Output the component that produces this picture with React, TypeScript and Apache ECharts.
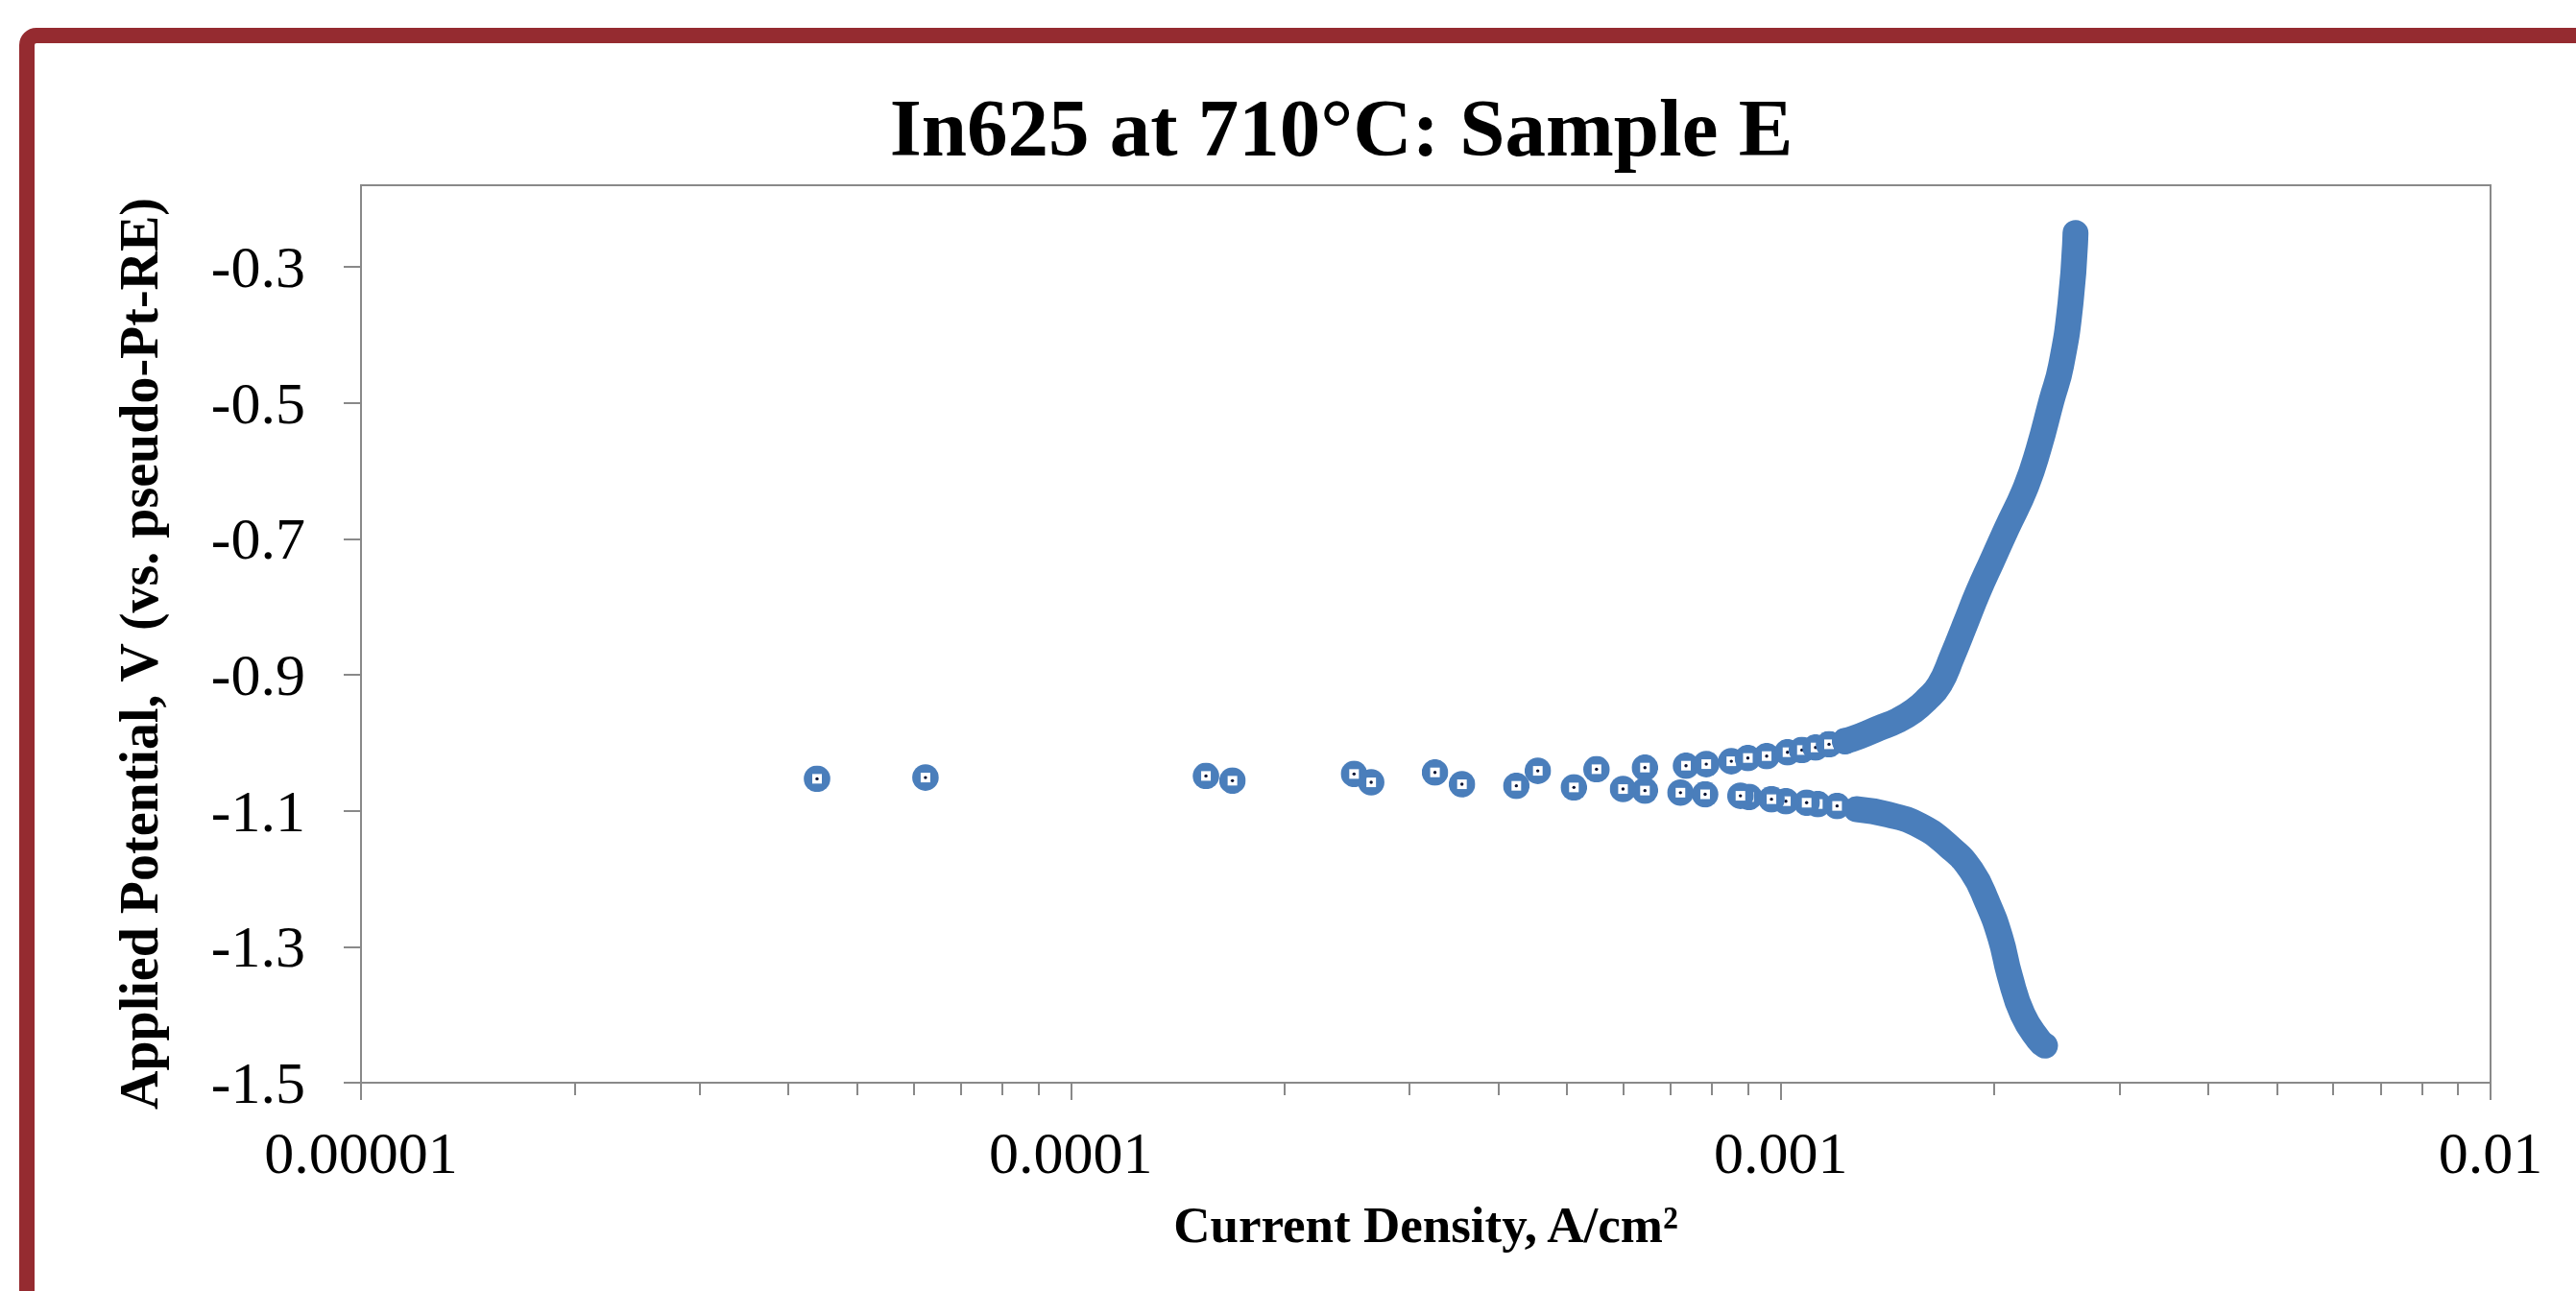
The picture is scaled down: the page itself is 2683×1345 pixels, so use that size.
import React, { useEffect, useRef } from "react";
import * as echarts from "echarts";

const chartTitle = "In625 at 710°C: Sample E";
const xAxisTitle = "Current Density, A/cm²";
const yAxisTitle = "Applied Potential, V (vs. pseudo-Pt-RE)";

const xMajorTicks = [0.00001, 0.0001, 0.001, 0.01];
const xTickLabels = ["0.00001", "0.0001", "0.001", "0.01"];
const xMinorTicks = [
  0.00002, 0.00003, 0.00004, 0.00005, 0.00006, 0.00007, 0.00008, 0.00009,
  0.0002, 0.0003, 0.0004, 0.0005, 0.0006, 0.0007, 0.0008, 0.0009,
  0.002, 0.003, 0.004, 0.005, 0.006, 0.007, 0.008, 0.009,
];
const yTicks = [-1.5, -1.3, -1.1, -0.9, -0.7, -0.5, -0.3];

// Cathodic branch, dense part (scan start at the most negative potential)
const cathodicDenseCurrent = [
  2.357e-3, 2.309e-3, 2.192e-3, 2.103e-3, 2.039e-3, 1.955e-3, 1.856e-3,
  1.727e-3, 1.572e-3, 1.417e-3, 1.278e-3,
];
const cathodicDensePotential = [
  -1.4454, -1.437, -1.3995, -1.3431, -1.2867, -1.2349, -1.1879, -1.1527,
  -1.1221, -1.1056, -1.0977,
];

// Cathodic branch, separate points approaching Ecorr
const cathodicSparseCurrent = [
  1.2007e-3, 1.1279e-3, 1.0878e-3, 1.0169e-3, 9.705e-4, 9.026e-4, 8.776e-4,
  7.826e-4, 7.224e-4, 6.438e-4, 5.996e-4, 5.113e-4, 4.242e-4, 3.556e-4,
  2.649e-4, 1.689e-4, 6.24e-5, 4.39e-5,
];
const cathodicSparsePotential = [
  -1.0929, -1.0901, -1.0882, -1.0859, -1.083, -1.0798, -1.078, -1.0758,
  -1.0734, -1.0703, -1.0681, -1.0657, -1.0633, -1.061, -1.0582, -1.0558,
  -1.0512, -1.053,
];

// Anodic branch, separate points leaving Ecorr
const anodicSparseCurrent = [
  1.55e-4, 2.506e-4, 3.258e-4, 4.548e-4, 5.502e-4, 6.438e-4, 7.355e-4,
  7.855e-4, 8.52e-4, 8.99e-4, 9.555e-4, 1.0223e-3, 1.0711e-3, 1.1197e-3,
  1.1697e-3, 1.2322e-3,
];
const anodicSparsePotential = [
  -1.0488, -1.0459, -1.0436, -1.0413, -1.0389, -1.0365, -1.0337, -1.0314,
  -1.0272, -1.0224, -1.0196, -1.0139, -1.0107, -1.0069, -1.0022, -0.9976,
];

// Anodic branch, dense part up to the end of the scan
const anodicDenseCurrent = [
  1.2322e-3, 1.2912e-3, 1.374e-3, 1.4628e-3, 1.54e-3, 1.6055e-3, 1.6735e-3,
  1.7443e-3, 1.8186e-3, 1.8955e-3, 1.986e-3, 2.0811e-3, 2.2147e-3, 2.3087e-3,
  2.4069e-3, 2.483e-3, 2.5614e-3, 2.602e-3,
];
const anodicDensePotential = [
  -0.9976, -0.9905, -0.9787, -0.967, -0.9529, -0.9364, -0.9148, -0.8729,
  -0.826, -0.779, -0.7319, -0.685, -0.6239, -0.5675, -0.497, -0.4452,
  -0.3512, -0.2502,
];

const zip = (a: number[], b: number[]) => a.map((v, i) => [v, b[i]]);

const BLUE = "#4A7EBB";
const GRAY = "#898989";
const FONT = "Liberation Serif";

const markerSvg =
  "<svg xmlns='http://www.w3.org/2000/svg' width='28' height='28' viewBox='0 0 28 28'>" +
  "<circle cx='14' cy='14' r='13.8' fill='#4A7EBB'/>" +
  "<rect x='9' y='9' width='10' height='10' fill='#ffffff'/>" +
  "<circle cx='14' cy='14' r='1.7' fill='#0b1433'/>" +
  "</svg>";
const markerSymbol = "image://data:image/svg+xml;charset=utf-8," + encodeURIComponent(markerSvg);

export default function App() {
  const ref = useRef<HTMLDivElement>(null);

  useEffect(() => {
    if (!ref.current) return;
    const chart = echarts.init(ref.current, null, { renderer: "svg" });

    const titleStyle = (text: string, size: number) => ({
      text,
      fontFamily: FONT,
      fontWeight: "bold",
      fontSize: size,
      fill: "#000",
      align: "center",
      verticalAlign: "middle",
      textAlign: "center",
      textVerticalAlign: "middle",
    });

    const option: any = {
      animation: false,
      backgroundColor: "#ffffff",
      grid: {
        left: 376,
        right: 89,
        top: 193,
        bottom: 217,
        show: true,
        borderColor: GRAY,
        borderWidth: 2,
        containLabel: false,
        outerBoundsMode: "none",
      },
      xAxis: [
        {
          type: "log",
          logBase: 10,
          min: xMajorTicks[0],
          max: xMajorTicks[xMajorTicks.length - 1],
          position: "bottom",
          axisLine: { show: true, onZero: false, lineStyle: { color: GRAY, width: 2 } },
          axisTick: {
            show: true,
            length: 18,
            customValues: xMajorTicks,
            lineStyle: { color: GRAY, width: 2 },
          },
          axisLabel: {
            show: true,
            customValues: xMajorTicks,
            margin: 42,
            fontFamily: FONT,
            fontSize: 62,
            color: "#000",
            formatter: (v: number) => {
              const i = xMajorTicks.findIndex((t) => Math.abs(t - v) / t < 1e-6);
              return i >= 0 ? xTickLabels[i] : "";
            },
          },
          splitLine: { show: false },
          minorTick: { show: false },
        },
        {
          type: "log",
          logBase: 10,
          min: xMajorTicks[0],
          max: xMajorTicks[xMajorTicks.length - 1],
          position: "bottom",
          offset: 0,
          axisLine: { show: false, onZero: false },
          axisTick: {
            show: true,
            length: 13,
            customValues: xMinorTicks,
            lineStyle: { color: GRAY, width: 2 },
          },
          axisLabel: { show: false },
          splitLine: { show: false },
        },
      ],
      yAxis: {
        type: "value",
        min: -1.5,
        max: -0.18,
        axisLine: { show: true, onZero: false, lineStyle: { color: GRAY, width: 2 } },
        axisTick: {
          show: true,
          length: 18,
          customValues: yTicks,
          lineStyle: { color: GRAY, width: 2 },
        },
        axisLabel: {
          show: true,
          customValues: yTicks,
          margin: 58,
          fontFamily: FONT,
          fontSize: 62,
          color: "#000",
          formatter: (v: number) => v.toFixed(1),
        },
        splitLine: { show: false },
      },
      graphic: [
        {
          type: "rect",
          shape: { x: 28, y: 37, width: 2760, height: 1420, r: 10 },
          style: { fill: "none", stroke: "#952B30", lineWidth: 16 },
          silent: true,
          z: 100,
        },
        { type: "text", x: 1397, y: 133, style: titleStyle(chartTitle, 85) },
        { type: "text", x: 1485, y: 1276, style: titleStyle(xAxisTitle, 53) },
        {
          type: "text",
          x: 145,
          y: 681,
          rotation: Math.PI / 2,
          style: titleStyle(yAxisTitle, 56),
        },
      ],
      series: [
        {
          name: "Cathodic (dense)",
          type: "line",
          xAxisIndex: 0,
          yAxisIndex: 0,
          data: zip(cathodicDenseCurrent, cathodicDensePotential),
          showSymbol: false,
          symbol: "none",
          smooth: 0.5,
          lineStyle: { color: BLUE, width: 27, cap: "round", join: "round" },
          z: 2,
        },
        {
          name: "Near Ecorr",
          type: "scatter",
          xAxisIndex: 0,
          yAxisIndex: 0,
          data: [
            ...zip(cathodicSparseCurrent, cathodicSparsePotential),
            ...zip(anodicSparseCurrent, anodicSparsePotential),
          ],
          symbol: markerSymbol,
          symbolSize: 28,
          itemStyle: { opacity: 1 },
          z: 3,
        },
        {
          name: "Anodic (dense)",
          type: "line",
          xAxisIndex: 0,
          yAxisIndex: 0,
          data: zip(anodicDenseCurrent, anodicDensePotential),
          showSymbol: false,
          symbol: "none",
          smooth: 0.5,
          lineStyle: { color: BLUE, width: 27, cap: "round", join: "round" },
          z: 4,
        },
      ],
    };

    chart.setOption(option);
    return () => chart.dispose();
  }, []);

  return (
    <div
      ref={ref}
      style={{ position: "absolute", left: 0, top: 0, width: 2683, height: 1345 }}
    />
  );
}
